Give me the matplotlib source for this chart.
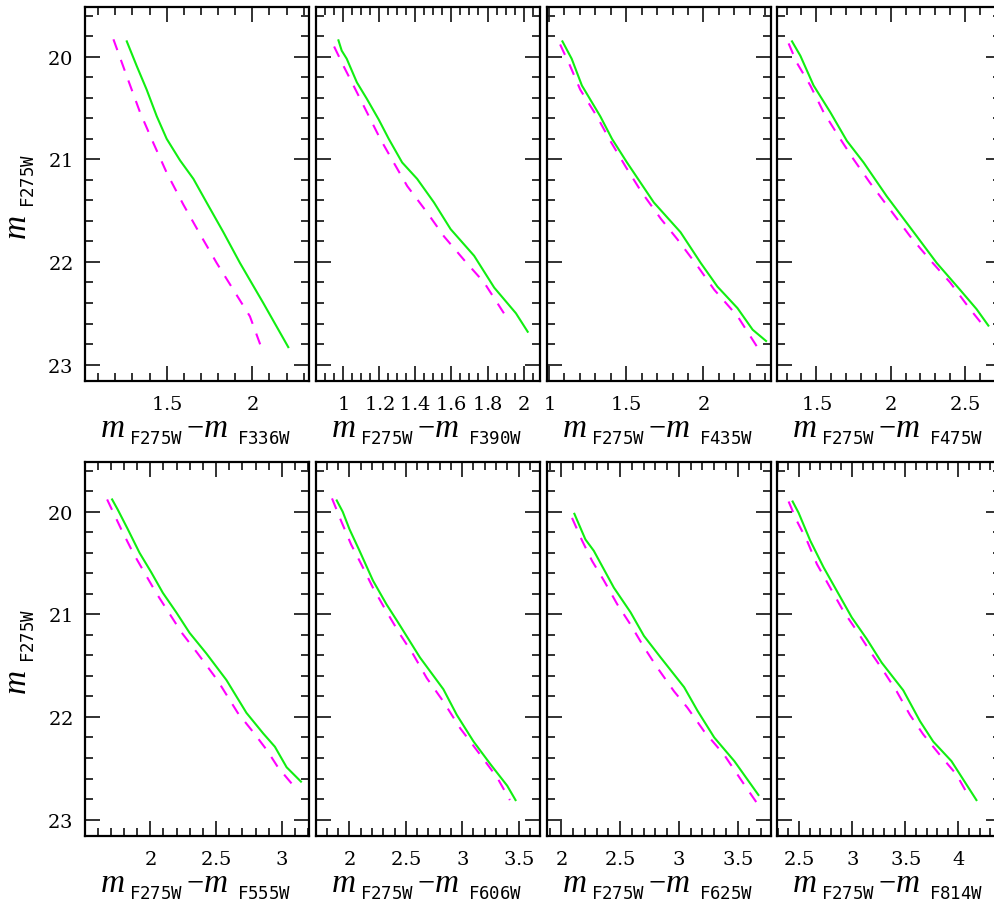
import matplotlib
matplotlib.use("Agg")
import matplotlib.pyplot as plt
from matplotlib.ticker import MultipleLocator, FuncFormatter

# digits drawn through mathtext in DejaVu Serif; base family only sets line boxes
plt.rcParams['font.family'] = ['Liberation Serif']
plt.rcParams['mathtext.fontset'] = 'custom'
plt.rcParams['mathtext.rm'] = 'DejaVu Serif'
plt.rcParams['mathtext.sf'] = 'Liberation Serif'
plt.rcParams['mathtext.it'] = 'Liberation Serif:italic'
plt.rcParams['mathtext.tt'] = 'DejaVu Sans Mono'

# filters on the x axis (m_F275W - m_X)
filters = ['F336W', 'F390W', 'F435W', 'F475W', 'F555W', 'F606W', 'F625W', 'F814W']

# green solid sequence: colour, magnitude
f336w_g_col = [1.267, 1.325, 1.383, 1.442, 1.50, 1.578, 1.656, 1.733, 1.831, 1.928, 2.064, 2.21]
f336w_g_mag = [19.85, 20.09, 20.32, 20.58, 20.80, 21.01, 21.19, 21.42, 21.71, 22.01, 22.40, 22.83]
f390w_g_col = [0.976, 0.994, 1.022, 1.078, 1.133, 1.198, 1.254, 1.328, 1.411, 1.504, 1.596, 1.726, 1.837, 1.957, 2.022]
f390w_g_mag = [19.84, 19.94, 20.02, 20.25, 20.41, 20.61, 20.80, 21.03, 21.19, 21.42, 21.68, 21.94, 22.25, 22.50, 22.68]
f435w_g_col = [1.087, 1.147, 1.213, 1.332, 1.408, 1.505, 1.679, 1.852, 1.983, 2.091, 2.221, 2.319, 2.406]
f435w_g_mag = [19.85, 20.02, 20.28, 20.58, 20.80, 21.03, 21.42, 21.71, 22.01, 22.24, 22.45, 22.66, 22.77]
f475w_g_col = [1.337, 1.393, 1.482, 1.594, 1.706, 1.818, 1.974, 2.176, 2.310, 2.466, 2.578, 2.657]
f475w_g_mag = [19.85, 19.99, 20.28, 20.54, 20.82, 21.03, 21.36, 21.75, 22.01, 22.27, 22.46, 22.62]
f555w_g_col = [1.711, 1.754, 1.830, 1.919, 2.008, 2.096, 2.198, 2.299, 2.426, 2.579, 2.731, 2.858, 2.947, 3.036, 3.145]
f555w_g_mag = [19.88, 19.98, 20.17, 20.40, 20.59, 20.79, 20.98, 21.18, 21.38, 21.64, 21.96, 22.16, 22.29, 22.49, 22.63]
f606w_g_col = [1.887, 1.940, 2.0, 2.089, 2.208, 2.327, 2.432, 2.625, 2.833, 2.952, 3.101, 3.25, 3.399, 3.473]
f606w_g_mag = [19.89, 20.00, 20.17, 20.38, 20.67, 20.90, 21.08, 21.42, 21.73, 21.98, 22.24, 22.46, 22.67, 22.81]
f625w_g_col = [2.111, 2.205, 2.276, 2.447, 2.589, 2.703, 2.845, 3.045, 3.159, 3.301, 3.472, 3.677]
f625w_g_mag = [20.02, 20.27, 20.38, 20.74, 20.98, 21.21, 21.42, 21.71, 21.94, 22.20, 22.43, 22.76]
f814w_g_col = [2.441, 2.497, 2.606, 2.731, 2.856, 2.997, 3.138, 3.278, 3.481, 3.638, 3.763, 3.934, 4.169]
f814w_g_mag = [19.90, 20.01, 20.28, 20.54, 20.77, 21.03, 21.24, 21.47, 21.74, 22.04, 22.24, 22.43, 22.81]

# magenta dashed sequence: colour, magnitude
f336w_m_col = [1.189, 1.267, 1.344, 1.422, 1.50, 1.597, 1.695, 1.792, 1.889, 1.986, 2.054]
f336w_m_mag = [19.83, 20.19, 20.54, 20.84, 21.13, 21.44, 21.73, 22.01, 22.27, 22.53, 22.84]
f390w_m_col = [0.952, 1.004, 1.059, 1.133, 1.207, 1.281, 1.356, 1.467, 1.559, 1.670, 1.781, 1.920]
f390w_m_mag = [19.90, 20.09, 20.28, 20.54, 20.80, 21.03, 21.26, 21.52, 21.75, 21.98, 22.20, 22.58]
f435w_m_col = [1.072, 1.137, 1.202, 1.310, 1.397, 1.500, 1.600, 1.725, 1.832, 1.962, 2.070, 2.222, 2.345]
f435w_m_mag = [19.88, 20.09, 20.32, 20.58, 20.82, 21.08, 21.32, 21.58, 21.78, 22.04, 22.27, 22.53, 22.82]
f475w_m_col = [1.314, 1.370, 1.460, 1.549, 1.661, 1.751, 1.862, 1.997, 2.131, 2.265, 2.400, 2.534, 2.645]
f475w_m_mag = [19.87, 20.06, 20.28, 20.54, 20.80, 21.00, 21.23, 21.49, 21.75, 21.98, 22.20, 22.46, 22.66]
f555w_m_col = [1.673, 1.780, 1.870, 1.955, 2.045, 2.140, 2.240, 2.360, 2.510, 2.665, 2.790, 2.890, 2.970, 3.075]
f555w_m_mag = [19.88, 20.17, 20.40, 20.59, 20.79, 20.98, 21.18, 21.38, 21.64, 21.96, 22.16, 22.33, 22.49, 22.65]
f606w_m_col = [1.845, 1.926, 2.015, 2.104, 2.208, 2.327, 2.446, 2.565, 2.685, 2.833, 2.982, 3.161, 3.310, 3.423]
f606w_m_mag = [19.87, 20.09, 20.32, 20.51, 20.74, 20.97, 21.19, 21.39, 21.62, 21.85, 22.11, 22.37, 22.59, 22.81]
f625w_m_col = [2.091, 2.176, 2.262, 2.362, 2.475, 2.589, 2.703, 2.817, 2.959, 3.073, 3.215, 3.386, 3.557, 3.671]
f625w_m_mag = [20.06, 20.28, 20.48, 20.67, 20.90, 21.10, 21.32, 21.52, 21.75, 21.91, 22.14, 22.37, 22.66, 22.85]
f814w_m_col = [2.403, 2.481, 2.575, 2.669, 2.794, 2.919, 3.044, 3.169, 3.294, 3.419, 3.544, 3.669, 3.825, 3.981, 4.106]
f814w_m_mag = [19.90, 20.09, 20.28, 20.51, 20.74, 20.97, 21.16, 21.36, 21.55, 21.75, 21.98, 22.17, 22.37, 22.56, 22.79]

green = [(f336w_g_col, f336w_g_mag), (f390w_g_col, f390w_g_mag), (f435w_g_col, f435w_g_mag),
         (f475w_g_col, f475w_g_mag), (f555w_g_col, f555w_g_mag), (f606w_g_col, f606w_g_mag),
         (f625w_g_col, f625w_g_mag), (f814w_g_col, f814w_g_mag)]
magenta = [(f336w_m_col, f336w_m_mag), (f390w_m_col, f390w_m_mag), (f435w_m_col, f435w_m_mag),
           (f475w_m_col, f475w_m_mag), (f555w_m_col, f555w_m_mag), (f606w_m_col, f606w_m_mag),
           (f625w_m_col, f625w_m_mag), (f814w_m_col, f814w_m_mag)]

# x ranges and tick steps of each panel
xlims = [(1.023, 2.331), (0.852, 2.09), (0.987, 2.438), (1.236, 2.742),
         (1.505, 3.206), (1.703, 3.69), (1.878, 3.784), (2.294, 4.40)]
xmajor = [0.5, 0.2, 0.5, 0.5, 0.5, 0.5, 0.5, 0.5]
xminor = [0.1, 0.05, 0.1, 0.1, 0.1, 0.1, 0.1, 0.1]

W, H = 995, 903
fig = plt.figure(figsize=(W / 100, H / 100), dpi=100)

lefts = [85, 316, 547, 777]
tops = [8, 463]
pw, ph = 224, 374


def px(x, y):
    return x / W, 1 - y / H


def piece(x, y, s, size, **kw):
    fig.text(*px(x, y), s, fontsize=size, ha='left', va='baseline', **kw)


def xlabel(x0, base, filt):
    # m_F275W - m_filt written piece by piece, positions in pixels
    piece(x0, base, r'$m$', 24)
    piece(x0 + 29, base + 7, r'$\mathtt{F275W}$', 12.5)
    piece(x0 + 86, base - 2, r'$\mathsf{-}$', 22)
    piece(x0 + 103, base, r'$m$', 24)
    piece(x0 + 137, base + 7, r'$\mathtt{%s}$' % filt, 12.5)


def ylabel(base, y0):
    kw = dict(rotation=90, rotation_mode='anchor')
    piece(base, y0, r'$m$', 24, **kw)
    piece(base + 8, y0 - 32, r'$\mathtt{F275W}$', 12.5, **kw)


fmt = FuncFormatter(lambda v, p: r'$\mathrm{%g}$' % round(v, 3))

for i in range(8):
    r, c = divmod(i, 4)
    ax = fig.add_axes([lefts[c] / W, 1 - (tops[r] + ph) / H, pw / W, ph / H])
    gx, gy = green[i]
    mx, my = magenta[i]
    ax.plot(gx, gy, color='#11ee11', lw=1.5)
    ax.plot(mx, my, color='#ff00ff', lw=1.5, dashes=(5.5, 5))
    ax.set_xlim(*xlims[i])
    ax.set_ylim(23.16, 19.515)
    ax.xaxis.set_major_locator(MultipleLocator(xmajor[i]))
    ax.xaxis.set_minor_locator(MultipleLocator(xminor[i]))
    ax.yaxis.set_major_locator(MultipleLocator(1))
    ax.yaxis.set_minor_locator(MultipleLocator(0.2))
    ax.xaxis.set_major_formatter(fmt)
    ax.yaxis.set_major_formatter(fmt)
    ax.tick_params(which='both', direction='in', top=True, right=True,
                   width=1.3, color='#222222', labelsize=14)
    ax.tick_params(which='major', length=10.5)
    ax.tick_params(which='minor', length=5.5)
    ax.tick_params(axis='x', pad=10)
    ax.tick_params(axis='y', pad=9)
    if c != 0:
        ax.tick_params(labelleft=False)
    for s in ax.spines.values():
        s.set_linewidth(1.6)
    base = tops[r] + ph + (55 if r == 0 else 55)
    xlabel(lefts[c] + pw / 2 - 97, base, filters[i])

for r in range(2):
    ylabel(26, tops[r] + 232)

fig.savefig('out.png', dpi=100)
